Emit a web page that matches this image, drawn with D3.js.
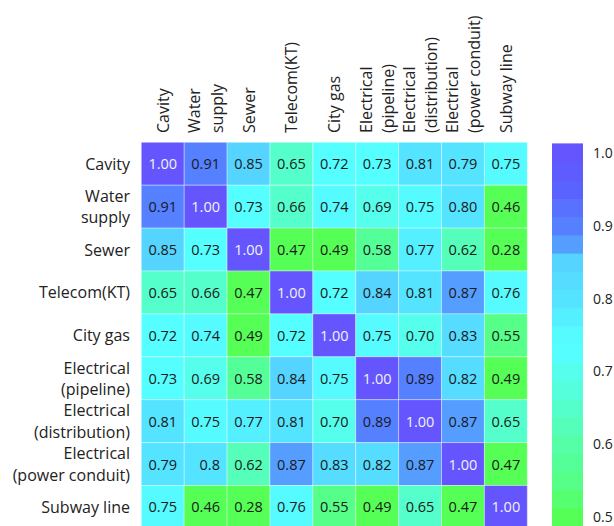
<!DOCTYPE html>
<html>
<head>
<meta charset="utf-8">
<script src="https://cdn.jsdelivr.net/npm/d3@7"></script>
<style>
  html, body { margin: 0; padding: 0; background: #fff; }
  svg { display: block; }
  text { font-family: "Open Sans", "Noto Sans", sans-serif; }
</style>
</head>
<body>
<svg id="chart" width="614" height="526"></svg>
<script>
// Category labels (multi-line labels are split into lines)
const categories = [
  ["Cavity"],
  ["Water", "supply"],
  ["Sewer"],
  ["Telecom(KT)"],
  ["City gas"],
  ["Electrical", "(pipeline)"],
  ["Electrical", "(distribution)"],
  ["Electrical", "(power conduit)"],
  ["Subway line"]
];

// Correlation matrix, stored as the printed labels
const correlations = [
  ["1.00", "0.91", "0.85", "0.65", "0.72", "0.73", "0.81", "0.79", "0.75"],
  ["0.91", "1.00", "0.73", "0.66", "0.74", "0.69", "0.75", "0.80", "0.46"],
  ["0.85", "0.73", "1.00", "0.47", "0.49", "0.58", "0.77", "0.62", "0.28"],
  ["0.65", "0.66", "0.47", "1.00", "0.72", "0.84", "0.81", "0.87", "0.76"],
  ["0.72", "0.74", "0.49", "0.72", "1.00", "0.75", "0.70", "0.83", "0.55"],
  ["0.73", "0.69", "0.58", "0.84", "0.75", "1.00", "0.89", "0.82", "0.49"],
  ["0.81", "0.75", "0.77", "0.81", "0.70", "0.89", "1.00", "0.87", "0.65"],
  ["0.79", "0.8",  "0.62", "0.87", "0.83", "0.82", "0.87", "1.00", "0.47"],
  ["0.75", "0.46", "0.28", "0.76", "0.55", "0.49", "0.65", "0.47", "1.00"]
];

// Colour bar tick labels
const colorTicks = [0.5, 0.6, 0.7, 0.8, 0.9, 1.0];

// Colour scale: stepped green -> cyan -> blue-violet, in bands of 0.025
const colorStopValues = [0.5, 0.55, 0.6, 0.65, 0.7, 0.725, 0.75, 0.8, 0.85, 0.875, 0.9, 0.95, 1.0];
const colorStopColors = ["#55ff55", "#55ff88", "#55ffa8", "#55ffcc", "#55ffec", "#55ffff", "#55fbff",
                         "#55e4ff", "#55d4ff", "#559eff", "#5580ff", "#5a63ff", "#6455ff"];
const bandStep = 0.025;

const ramp = d3.scaleLinear().domain(colorStopValues).range(colorStopColors)
  .interpolate(d3.interpolateRgb).clamp(true);
const stepped = v => ramp(Math.round(v / bandStep) * bandStep);

const svg = d3.select("#chart");

const n = categories.length;
const idx = d3.range(n);
const x = d3.scaleBand().domain(idx).range([141.3, 527.3]).padding(0);
const y = d3.scaleBand().domain(idx).range([142.3, 528.4]).padding(0);

// Cells
const cells = [];
correlations.forEach((row, r) => row.forEach((s, c) => cells.push({ r, c, s, v: +s })));

svg.append("g").selectAll("rect").data(cells).join("rect")
  .attr("x", d => x(d.c))
  .attr("y", d => y(d.r))
  .attr("width", x.bandwidth())
  .attr("height", y.bandwidth())
  .attr("fill", d => stepped(d.v))
  .attr("stroke", "rgba(255,255,255,0.35)")
  .attr("stroke-width", 1);

// Measure a full-width value label so shorter labels align on the right
const valueSize = 14.5;
const probe = svg.append("text").attr("font-size", valueSize).text("0.00");
const fullW = probe.node().getComputedTextLength();
probe.remove();

svg.append("g").selectAll("text").data(cells).join("text")
  .attr("x", d => x(d.c) + x.bandwidth() / 2 + fullW / 2)
  .attr("y", d => y(d.r) + y.bandwidth() / 2)
  .attr("text-anchor", "end")
  .attr("dominant-baseline", "central")
  .attr("font-size", valueSize)
  .attr("fill", d => d.v >= 0.95 ? "#f2f2f2" : "#1a1a1a")
  .text(d => d.s);

// Row labels (left)
const lineGap = 21.5;
const rowG = svg.append("g").selectAll("text").data(categories).join("text")
  .attr("text-anchor", "end")
  .attr("font-size", 16)
  .attr("fill", "#222");
rowG.each(function (lines, i) {
  const cy = y(i) + y.bandwidth() / 2;
  d3.select(this).selectAll("tspan").data(lines).join("tspan")
    .attr("x", 130)
    .attr("y", (l, k) => cy + (k - (lines.length - 1) / 2) * lineGap)
    .attr("dominant-baseline", "central")
    .text(l => l);
});

// Column labels (top, rotated)
const colG = svg.append("g").selectAll("g").data(categories).join("g")
  .attr("transform", (d, i) => `translate(${x(i) + x.bandwidth() / 2},133) rotate(-90)`);
colG.each(function (lines) {
  d3.select(this).selectAll("text").data(lines).join("text")
    .attr("x", 0)
    .attr("y", (l, k) => (k - (lines.length - 1) / 2) * 22.5)
    .attr("text-anchor", "start")
    .attr("dominant-baseline", "central")
    .attr("font-size", 16)
    .attr("fill", "#222")
    .text(l => l);
});

// Colour bar
const cbX = 552, cbW = 31, cbTop = 142.3, cbBottom = 540;
const cbScale = d3.scaleLinear().domain([0.5, 1.0]).range([517, 153]);
const bands = d3.range(Math.round(0.45 / bandStep), Math.round(1.0 / bandStep) + 1).map(k => k * bandStep);
const cb = svg.append("g");
cb.append("clipPath").attr("id", "cbclip").append("rect")
  .attr("x", cbX).attr("y", cbTop).attr("width", cbW).attr("height", cbBottom - cbTop);
cb.append("g").attr("clip-path", "url(#cbclip)").selectAll("rect").data(bands).join("rect")
  .attr("x", cbX)
  .attr("y", d => cbScale(d + bandStep / 2) - 0.5)
  .attr("width", cbW)
  .attr("height", d => cbScale(d - bandStep / 2) - cbScale(d + bandStep / 2) + 1)
  .attr("fill", d => ramp(d));

const cbAxis = d3.axisRight(cbScale).tickValues(colorTicks).tickFormat(d3.format(".1f")).tickSize(0).tickPadding(0);
const axG = svg.append("g").attr("transform", `translate(${cbX + cbW + 10},0)`).call(cbAxis);
axG.select(".domain").remove();
axG.selectAll("text").attr("font-size", 14).attr("fill", "#222")
  .attr("font-family", "'Open Sans', 'Noto Sans', sans-serif");
</script>
</body>
</html>
